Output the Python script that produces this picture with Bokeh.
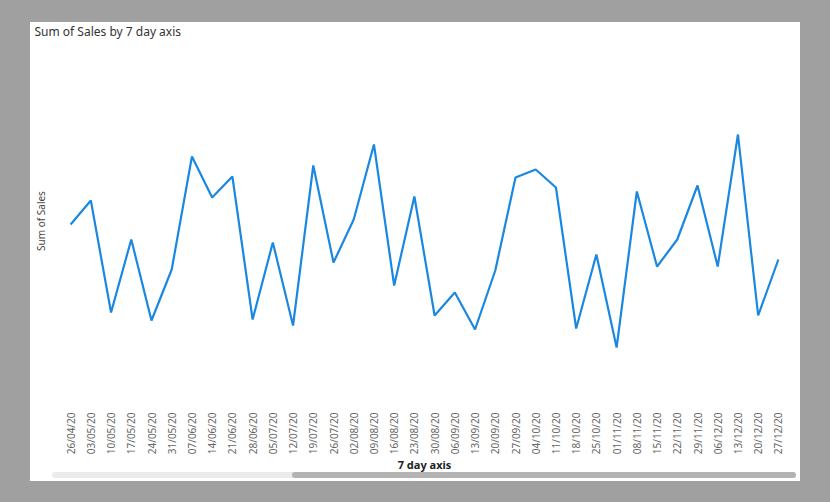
from bokeh.plotting import figure
from bokeh.layouts import column
from bokeh.models import Range1d, ColumnDataSource, Div, FixedTicker
from bokeh.embed import file_html
from bokeh.resources import INLINE

dates = ["26/04/20", "03/05/20", "10/05/20", "17/05/20", "24/05/20", "31/05/20",
         "07/06/20", "14/06/20", "21/06/20", "28/06/20", "05/07/20", "12/07/20",
         "19/07/20", "26/07/20", "02/08/20", "09/08/20", "16/08/20", "23/08/20",
         "30/08/20", "06/09/20", "13/09/20", "20/09/20", "27/09/20", "04/10/20",
         "11/10/20", "18/10/20", "25/10/20", "01/11/20", "08/11/20", "15/11/20",
         "22/11/20", "29/11/20", "06/12/20", "13/12/20", "20/12/20", "27/12/20"]
sales = [1760, 2000, 880, 1610, 800, 1310, 2440, 2030, 2240, 810, 1580, 750,
         2350, 1380, 1810, 2560, 1150, 2040, 850, 1080, 710, 1300, 2230, 2310,
         2130, 720, 1460, 530, 2090, 1340, 1610, 2150, 1340, 2660, 850, 1410]
title_text = "Sum of Sales by 7 day axis"

FONT = "Noto Sans"
src = ColumnDataSource(dict(d=dates, s=sales))

p = figure(x_range=dates, y_range=Range1d(0, 3590), width=770, height=453,
           output_backend="svg", toolbar_location=None, title=title_text,
           min_border_left=30, min_border_right=12, min_border_top=18,
           min_border_bottom=75)
p.line("d", "s", source=src, line_color="#1a87e0", line_width=2.2)

p.title.text_font = FONT
p.title.text_font_size = "12px"
p.title.text_font_style = "normal"
p.title.text_color = "#333333"
p.title.align = "left"
p.title.vertical_align = "top"
p.title.offset = -26
p.title.standoff = 0

p.background_fill_color = "white"
p.border_fill_color = "white"
p.outline_line_color = None
p.grid.grid_line_color = None

p.yaxis.ticker = FixedTicker(ticks=[])
p.yaxis.axis_label = "Sum of Sales"
p.yaxis.axis_label_text_font = FONT
p.yaxis.axis_label_text_font_size = "10px"
p.yaxis.axis_label_text_font_style = "normal"
p.yaxis.axis_label_text_color = "#444444"
p.yaxis.major_tick_out = 0
p.yaxis.major_tick_in = 0
p.yaxis.major_label_standoff = 0
p.yaxis.major_tick_line_color = None
p.yaxis.minor_tick_line_color = None
p.yaxis.axis_line_color = None
p.yaxis.axis_label_standoff = 13

p.xaxis.axis_label = "7 day axis"
p.xaxis.axis_label_text_font = FONT
p.xaxis.axis_label_text_font_size = "11px"
p.xaxis.axis_label_text_font_style = "bold"
p.xaxis.axis_label_text_color = "#222222"
p.xaxis.axis_label_standoff = 0
p.xaxis.major_label_orientation = 1.5708
p.xaxis.major_label_text_font = FONT
p.xaxis.major_label_text_font_size = "10px"
p.xaxis.major_label_text_color = "#666666"
p.xaxis.major_tick_out = 0
p.xaxis.major_tick_in = 0
p.xaxis.major_label_standoff = 12
p.xaxis.major_tick_line_color = None
p.xaxis.minor_tick_line_color = None
p.xaxis.axis_line_color = None

bar_html = ('<div style="position:relative;top:-9px;margin-left:22px;width:744px;height:6px;'
            'background:#ebebeb;border-radius:3px;">'
            '<div style="position:absolute;left:240px;top:0;width:504px;height:6px;'
            'background:#b3b3b3;border-radius:3px;"></div></div>')
scroll = Div(text=bar_html, width=770, height=6, margin=(0, 0, 0, 0))

inner = column(p, scroll, spacing=0, styles={"background-color": "white"})
inner.margin = (22, 30, 21, 30)
layout = column(inner, width=830, height=502, styles={"background-color": "#a0a0a0"})

open("out.html", "w").write(file_html(layout, INLINE))
